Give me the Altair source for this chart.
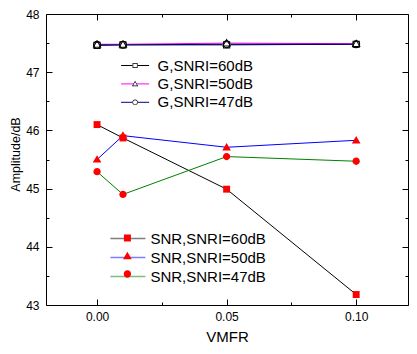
import altair as alt
import pandas as pd

vmfr = [0.00, 0.01, 0.05, 0.10]

g_names = ["G,SNRI=60dB", "G,SNRI=50dB", "G,SNRI=47dB"]
g60 = [47.46, 47.47, 47.47, 47.48]
g50 = [47.48, 47.48, 47.50, 47.49]
g47 = [47.47, 47.47, 47.48, 47.48]

snr_names = ["SNR,SNRI=60dB", "SNR,SNRI=50dB", "SNR,SNRI=47dB"]
snr60 = [46.10, 45.87, 44.99, 43.18]
snr50 = [45.50, 45.91, 45.71, 45.83]
snr47 = [45.29, 44.90, 45.55, 45.47]

x_labels = [0.00, 0.05, 0.10]
x_major = [0.0, 0.05, 0.10]
x_minor = [0.025, 0.075]
y_labels = [43, 44, 45, 46, 47, 48]
y_minor = [43.5, 44.5, 45.5, 46.5, 47.5]


def long(names, series):
    rows = []
    for n, vals in zip(names, series):
        for x, y in zip(vmfr, vals):
            rows.append({"vmfr": x, "amp": y, "series": n})
    return pd.DataFrame(rows)


df_g = long(g_names, [g60, g50, g47])
df_s = long(snr_names, [snr60, snr50, snr47])

W, H = 362, 291
FONT = "Liberation Sans"

LINE = "M-2,0H2"
# open markers: white body + black ring
G_BODY = ["M-0.36,-0.36H0.36V0.36H-0.36Z",
          "M0,-0.45L0.45,0.33H-0.45Z",
          "M0.4,0A0.4,0.4,0,1,1,-0.4,0A0.4,0.4,0,1,1,0.4,0Z"]
G_RING = ["M-0.36,-0.36H0.36V0.36H-0.36Z M-0.26,-0.26V0.26H0.26V-0.26Z",
          "M0,-0.45L0.45,0.33H-0.45Z M0,-0.26L-0.29,0.24H0.29Z",
          "M0.4,0A0.4,0.4,0,1,1,-0.4,0A0.4,0.4,0,1,1,0.4,0Z M0.3,0A0.3,0.3,0,1,0,-0.3,0A0.3,0.3,0,1,0,0.3,0Z"]
S_SHAPES = ["M-0.4,-0.4H0.4V0.4H-0.4Z",
            "M0,-0.5L0.5,0.36H-0.5Z",
            "M0.42,0A0.42,0.42,0,1,1,-0.42,0A0.42,0.42,0,1,1,0.42,0Z"]

xscale = alt.Scale(domain=[-0.0197, 0.12], nice=False, zero=False)
yscale = alt.Scale(domain=[43, 48], nice=False, zero=False)

ax_x_lab = alt.Axis(orient="bottom", values=x_labels, format=".2f", ticks=False, tickSize=0,
                    domain=False, grid=False, labelPadding=6, title="VMFR", titlePadding=7,
                    titleFontSize=15)
ax_y_lab = alt.Axis(orient="left", values=y_labels, format="d", ticks=False, tickSize=0,
                    domain=False, grid=False, labelPadding=7, title="Amplitude/dB",
                    titleFontSize=12.5, titleX=-24, titleY=140)


def tick_axis(orient, offset, values, size):
    return alt.Axis(orient=orient, offset=offset, values=values, labels=False, domain=False,
                    grid=False, ticks=True, tickSize=size, tickColor="black", tickWidth=1, title=None)


def leg(x, y, size, lo, rp, **kw):
    return alt.Legend(title=None, orient="none", legendX=x, legendY=y, symbolSize=size,
                      labelFont=FONT, labelFontSize=15, labelColor="black", labelOffset=lo,
                      rowPadding=rp, padding=0, **kw)


GX, GY, GS, GL, GP = 81.6, 44, 196, 15, 2.4
SX, SY, SS, SL, SP = 72.4, 215, 306, 13, 1

g_lines = alt.Chart(df_g).mark_line(strokeWidth=1).encode(
    x=alt.X("vmfr:Q", scale=xscale, axis=ax_x_lab),
    y=alt.Y("amp:Q", scale=yscale, axis=ax_y_lab),
    color=alt.Color("series:N", scale=alt.Scale(domain=g_names, range=["black", "#FF00FF", "#000080"]),
                    legend=leg(GX, GY, GS, GL, GP, symbolType=LINE, symbolStrokeWidth=1)),
)
s_lines = alt.Chart(df_s).mark_line(strokeWidth=1).encode(
    x=alt.X("vmfr:Q", scale=xscale, axis=tick_axis("top", -H, x_major, 6)),
    y=alt.Y("amp:Q", scale=yscale, axis=tick_axis("right", -W, y_labels, 6)),
    color=alt.Color("series:N", scale=alt.Scale(domain=snr_names, range=["black", "#0000FF", "#008000"]),
                    legend=leg(SX, SY, SS, SL, SP, symbolType=LINE, symbolStrokeWidth=1.5, symbolOpacity=0.5)),
)
g_body = alt.Chart(df_g).mark_point(filled=True, fill="white", strokeWidth=0, opacity=1, size=400).encode(
    x=alt.X("vmfr:Q", scale=xscale, axis=tick_axis("top", -H, x_minor, 3)),
    y=alt.Y("amp:Q", scale=yscale, axis=tick_axis("right", -W, y_minor, 3)),
    shape=alt.Shape("series:N", scale=alt.Scale(domain=g_names, range=G_BODY),
                    legend=leg(GX, GY, GS, GL, GP, symbolFillColor="white", symbolStrokeWidth=0,
                               labelOpacity=0)),
)
g_ring = alt.Chart(df_g).mark_point(filled=True, fill="black", strokeWidth=0, opacity=1, size=400).encode(
    x=alt.X("vmfr:Q", scale=xscale, axis=tick_axis("bottom", -H, x_major, 6)),
    y=alt.Y("amp:Q", scale=yscale, axis=tick_axis("left", -W, y_labels, 6)),
    shape=alt.Shape("series:N", scale=alt.Scale(domain=g_names, range=G_RING),
                    legend=leg(GX, GY, GS, GL, GP, symbolFillColor="black", symbolStrokeWidth=0,
                               labelOpacity=0)),
)
s_pts = alt.Chart(df_s).mark_point(filled=True, fill="#FF0000", strokeWidth=0, opacity=1, size=300).encode(
    x=alt.X("vmfr:Q", scale=xscale, axis=tick_axis("bottom", -H, x_minor, 3)),
    y=alt.Y("amp:Q", scale=yscale, axis=tick_axis("left", -W, y_minor, 3)),
    shape=alt.Shape("series:N", scale=alt.Scale(domain=snr_names, range=S_SHAPES),
                    legend=leg(SX, SY, SS, SL, SP, symbolFillColor="#FF0000", symbolStrokeWidth=0,
                               labelOpacity=0)),
)

chart = alt.layer(g_lines, s_lines, g_body, g_ring, s_pts).resolve_scale(
    color="independent", shape="independent"
).resolve_axis(x="independent", y="independent").properties(
    width=W, height=H,
    autosize=alt.AutoSizeParams(type="none"),
    padding={"left": 38, "top": 6, "right": 1, "bottom": 38},
    background="white",
).configure_view(stroke="black", strokeWidth=1).configure_axis(
    labelFont=FONT, labelFontSize=12, labelColor="black", titleFont=FONT, titleFontSize=15,
    titleFontWeight="normal", titleColor="black",
)

chart.save("out.html", embed_options={"renderer": "svg", "actions": False})
